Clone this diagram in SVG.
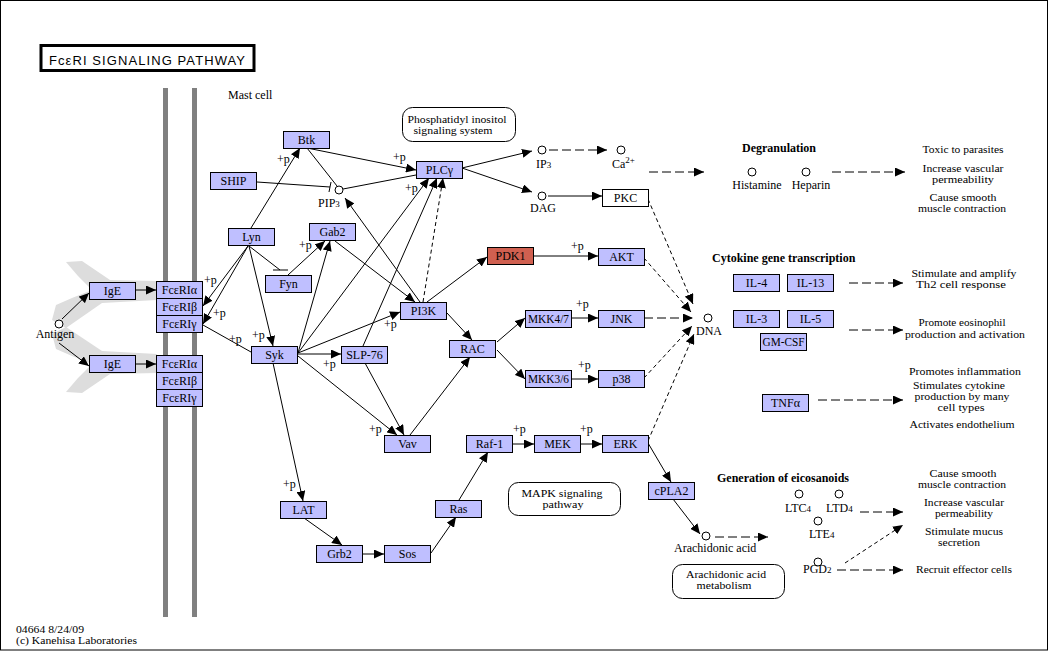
<svg xmlns="http://www.w3.org/2000/svg" width="1049" height="651" viewBox="0 0 1049 651">
<style>
.n{fill:#BFBFFF;stroke:#000;stroke-width:1}
.w{fill:#FFFFFF}
.r{fill:#D06050}
.t{font-family:"Liberation Serif","Times New Roman",serif;font-size:12px;fill:#000}
.s{font-size:11px}
.c{text-anchor:middle}
.b{font-weight:bold}
.l{stroke:#000;stroke-width:1;fill:none}
.d{stroke-dasharray:9,4}
.f{stroke-dasharray:4,3}
.o{fill:#fff;stroke:#000;stroke-width:1}
.m{fill:#808080}
.g{fill:#DDDDDD}
.bx{fill:#fff;stroke:#000;stroke-width:1}
</style>
<defs>
<marker id="a" markerWidth="10" markerHeight="9" refX="10" refY="4.5" orient="auto" markerUnits="userSpaceOnUse"><path d="M0,0L10,4.5L0,9z" fill="#000"/></marker>
</defs>
<rect x="0.5" y="0.5" width="1047" height="649.5" fill="#fff" stroke="#000" stroke-width="1"/>

<g id="title">
<rect x="41" y="45.5" width="213" height="25" fill="none" stroke="#000" stroke-width="3"/>
<text x="49" y="64.5" font-family="'Liberation Sans',Arial,sans-serif" font-size="13" textLength="196" lengthAdjust="spacing">FcεRI SIGNALING PATHWAY</text>
</g>

<g id="membrane">
<rect class="m" x="163" y="88" width="5" height="529"/>
<rect class="m" x="192" y="88" width="5" height="529"/>
</g>

<g id="antibodies">
<polygon class="g" points="157,281 110,280 82,261 66,262 78,276 92,290 72,298 56,305 52,320 66,328 102,303 157,300"/>
<polygon class="g" points="157,373 110,374 82,393 66,392 78,378 92,364 72,356 56,349 52,334 66,327 102,351 157,354"/>
</g>

<text class="t" x="228" y="99">Mast cell</text>

<g id="connectors">
<path class="l" marker-end="url(#a)" d="M62,319L89,293"/>
<path class="l" marker-end="url(#a)" d="M59,343L89,366"/>
<path class="l" marker-end="url(#a)" d="M136,290L156,290"/>
<path class="l" marker-end="url(#a)" d="M136,364L156,364"/>
<path class="l" marker-end="url(#a)" d="M248,246L203,306"/>
<path class="l" marker-end="url(#a)" d="M248,246L203,324"/>
<path class="l" d="M203,325L251,352"/>
<path class="l" marker-end="url(#a)" d="M249,246L273,346"/>
<path class="l" d="M249,246L280,270M273,270L288,270"/>
<path class="l" marker-end="url(#a)" d="M251,228L300,148"/>
<path class="l" marker-end="url(#a)" d="M288,275L325,241"/>
<path class="l" marker-end="url(#a)" d="M298,353L330,241"/>
<path class="l" marker-end="url(#a)" d="M307,148L416,170"/>
<path class="l" d="M307,148L337,186"/>
<path class="l" d="M257,182L330,187M331,182L329,192"/>
<path class="l" d="M343,189L416,175"/>
<path class="l" marker-end="url(#a)" d="M420,302L345,198"/>
<path class="l" marker-end="url(#a)" d="M335,241L415,302"/>
<path class="l f" marker-end="url(#a)" d="M423,302L443,178"/>
<path class="l" marker-end="url(#a)" d="M298,353L429,178"/>
<path class="l" marker-end="url(#a)" d="M363,346L437,178"/>
<path class="l" marker-end="url(#a)" d="M298,353L400,312"/>
<path class="l" marker-end="url(#a)" d="M298,354L341,354"/>
<path class="l" marker-end="url(#a)" d="M298,356L397,435"/>
<path class="l" marker-end="url(#a)" d="M365,363L404,435"/>
<path class="l" marker-end="url(#a)" d="M410,435L470,357"/>
<path class="l" marker-end="url(#a)" d="M447,313L472,340"/>
<path class="l" marker-end="url(#a)" d="M273,363L303,501"/>
<path class="l" marker-end="url(#a)" d="M304,518L342,545"/>
<path class="l" marker-end="url(#a)" d="M362,554L384,554"/>
<path class="l" marker-end="url(#a)" d="M431,553L456,517"/>
<path class="l" marker-end="url(#a)" d="M459,500L488,452"/>
<path class="l" marker-end="url(#a)" d="M512,444L534,444"/>
<path class="l" marker-end="url(#a)" d="M580,444L602,444"/>
<path class="l" marker-end="url(#a)" d="M648,443L671,482"/>
<path class="l" marker-end="url(#a)" d="M673,499L700,534"/>
<path class="l" marker-end="url(#a)" d="M427,302L487,257"/>
<path class="l" marker-end="url(#a)" d="M533,256L598,256"/>
<path class="l" marker-end="url(#a)" d="M462,168L532,151"/>
<path class="l" marker-end="url(#a)" d="M462,168L532,192"/>
<path class="l" marker-end="url(#a)" d="M548,196L602,196"/>
<path class="l" marker-end="url(#a)" d="M497,342L525,318"/>
<path class="l" marker-end="url(#a)" d="M497,350L525,379"/>
<path class="l" marker-end="url(#a)" d="M571,318L598,318"/>
<path class="l" marker-end="url(#a)" d="M571,379L598,379"/>
<path class="l d" marker-end="url(#a)" d="M644,318L693,318"/>
<path class="l f" marker-end="url(#a)" d="M648,199L693,304"/>
<path class="l f" marker-end="url(#a)" d="M644,258L691,312"/>
<path class="l f" marker-end="url(#a)" d="M644,378L692,326"/>
<path class="l f" marker-end="url(#a)" d="M648,441L694,334"/>
<path class="l d" marker-end="url(#a)" d="M549,150L607,150"/>
<path class="l d" marker-end="url(#a)" d="M649,172L704,172"/>
<path class="l d" marker-end="url(#a)" d="M832,172L905,172"/>
<path class="l d" marker-end="url(#a)" d="M849,283L903,283"/>
<path class="l d" marker-end="url(#a)" d="M849,330L903,330"/>
<path class="l d" marker-end="url(#a)" d="M818,400L903,400"/>
<path class="l d" marker-end="url(#a)" d="M860,512L903,512"/>
<path class="l d" marker-end="url(#a)" d="M715,537L768,537"/>
<path class="l d" marker-end="url(#a)" d="M837,570L903,570"/>
<path class="l f" marker-end="url(#a)" d="M845,563L903,525"/>
</g>

<g id="p-labels" class="t">
<text x="277" y="163">+p</text>
<text x="393" y="161">+p</text>
<text x="405" y="192">+p</text>
<text x="299" y="249">+p</text>
<text x="204" y="284">+p</text>
<text x="213" y="317">+p</text>
<text x="229" y="343">+p</text>
<text x="252" y="339">+p</text>
<text x="384" y="328">+p</text>
<text x="323" y="368">+p</text>
<text x="369" y="433">+p</text>
<text x="283" y="488">+p</text>
<text x="513" y="433">+p</text>
<text x="580" y="433">+p</text>
<text x="576" y="308">+p</text>
<text x="578" y="369">+p</text>
<text x="571" y="250">+p</text>
</g>

<g id="IgE1"><rect class="n" x="89.5" y="282.5" width="46" height="17"/><text class="t c" x="112.5" y="295">IgE</text></g>
<g id="IgE2"><rect class="n" x="89.5" y="355.5" width="46" height="17"/><text class="t c" x="112.5" y="368">IgE</text></g>
<g id="FceRIa1"><rect class="n" x="156.5" y="281.5" width="46" height="17"/><text class="t c" x="179.5" y="294">FcεRIα</text></g>
<g id="FceRIb1"><rect class="n" x="156.5" y="298.5" width="46" height="17"/><text class="t c" x="179.5" y="311">FcεRIβ</text></g>
<g id="FceRIg1"><rect class="n" x="156.5" y="315.5" width="46" height="17"/><text class="t c" x="179.5" y="328">FcεRIγ</text></g>
<g id="FceRIa2"><rect class="n" x="156.5" y="355.5" width="46" height="17"/><text class="t c" x="179.5" y="368">FcεRIα</text></g>
<g id="FceRIb2"><rect class="n" x="156.5" y="372.5" width="46" height="17"/><text class="t c" x="179.5" y="385">FcεRIβ</text></g>
<g id="FceRIg2"><rect class="n" x="156.5" y="389.5" width="46" height="17"/><text class="t c" x="179.5" y="402">FcεRIγ</text></g>
<g id="Btk"><rect class="n" x="283.5" y="131.5" width="46" height="17"/><text class="t c" x="306.5" y="144">Btk</text></g>
<g id="SHIP"><rect class="n" x="210.5" y="172.5" width="46" height="17"/><text class="t c" x="233.5" y="185">SHIP</text></g>
<g id="Lyn"><rect class="n" x="228.5" y="228.5" width="46" height="17"/><text class="t c" x="251.5" y="241">Lyn</text></g>
<g id="Gab2"><rect class="n" x="309.5" y="223.5" width="46" height="17"/><text class="t c" x="332.5" y="236">Gab2</text></g>
<g id="Fyn"><rect class="n" x="265.5" y="275.5" width="46" height="17"/><text class="t c" x="288.5" y="288">Fyn</text></g>
<g id="Syk"><rect class="n" x="251.5" y="346.5" width="46" height="17"/><text class="t c" x="274.5" y="359">Syk</text></g>
<g id="SLP-76"><rect class="n" x="341.5" y="346.5" width="46" height="17"/><text class="t c" x="364.5" y="359">SLP-76</text></g>
<g id="PI3K"><rect class="n" x="400.5" y="302.5" width="46" height="17"/><text class="t c" x="423.5" y="315">PI3K</text></g>
<g id="RAC"><rect class="n" x="449.5" y="340.5" width="46" height="17"/><text class="t c" x="472.5" y="353">RAC</text></g>
<g id="Vav"><rect class="n" x="384.5" y="435.5" width="46" height="17"/><text class="t c" x="407.5" y="448">Vav</text></g>
<g id="Raf-1"><rect class="n" x="466.5" y="435.5" width="46" height="17"/><text class="t c" x="489.5" y="448">Raf-1</text></g>
<g id="LAT"><rect class="n" x="280.5" y="501.5" width="46" height="17"/><text class="t c" x="303.5" y="514">LAT</text></g>
<g id="Grb2"><rect class="n" x="316.5" y="545.5" width="46" height="17"/><text class="t c" x="339.5" y="558">Grb2</text></g>
<g id="Sos"><rect class="n" x="384.5" y="545.5" width="46" height="17"/><text class="t c" x="407.5" y="558">Sos</text></g>
<g id="Ras"><rect class="n" x="435.5" y="500.5" width="46" height="17"/><text class="t c" x="458.5" y="513">Ras</text></g>
<g id="PLCg"><rect class="n" x="416.5" y="161.5" width="46" height="17"/><text class="t c" x="439.5" y="174">PLCγ</text></g>
<g id="PDK1"><rect class="n r" x="487.5" y="247.5" width="46" height="17"/><text class="t c" x="510.5" y="260">PDK1</text></g>
<g id="AKT"><rect class="n" x="598.5" y="248.5" width="46" height="17"/><text class="t c" x="621.5" y="261">AKT</text></g>
<g id="PKC"><rect class="n w" x="602.5" y="189.5" width="46" height="17"/><text class="t c" x="625.5" y="202">PKC</text></g>
<g id="MKK47"><rect class="n" x="525.5" y="310.5" width="46" height="17"/><text class="t c" x="548.5" y="323" textLength="41" lengthAdjust="spacingAndGlyphs">MKK4/7</text></g>
<g id="JNK"><rect class="n" x="598.5" y="310.5" width="46" height="17"/><text class="t c" x="621.5" y="323">JNK</text></g>
<g id="MKK36"><rect class="n" x="525.5" y="370.5" width="46" height="17"/><text class="t c" x="548.5" y="383" textLength="41" lengthAdjust="spacingAndGlyphs">MKK3/6</text></g>
<g id="p38"><rect class="n" x="598.5" y="370.5" width="46" height="17"/><text class="t c" x="621.5" y="383">p38</text></g>
<g id="MEK"><rect class="n" x="534.5" y="435.5" width="46" height="17"/><text class="t c" x="557.5" y="448">MEK</text></g>
<g id="ERK"><rect class="n" x="602.5" y="435.5" width="46" height="17"/><text class="t c" x="625.5" y="448">ERK</text></g>
<g id="cPLA2"><rect class="n" x="648.5" y="482.5" width="46" height="17"/><text class="t c" x="671.5" y="495">cPLA2</text></g>
<g id="IL-4"><rect class="n" x="733.5" y="274.5" width="46" height="17"/><text class="t c" x="756.5" y="287">IL-4</text></g>
<g id="IL-13"><rect class="n" x="787.5" y="274.5" width="46" height="17"/><text class="t c" x="810.5" y="287">IL-13</text></g>
<g id="IL-3"><rect class="n" x="733.5" y="310.5" width="46" height="17"/><text class="t c" x="756.5" y="323">IL-3</text></g>
<g id="IL-5"><rect class="n" x="787.5" y="310.5" width="46" height="17"/><text class="t c" x="810.5" y="323">IL-5</text></g>
<g id="GM-CSF"><rect class="n" x="760.5" y="333.5" width="46" height="17"/><text class="t c" x="783.5" y="346" textLength="42" lengthAdjust="spacingAndGlyphs">GM-CSF</text></g>
<g id="TNFa"><rect class="n" x="762.5" y="394.5" width="46" height="17"/><text class="t c" x="785.5" y="407">TNFα</text></g>

<g id="compounds">
<circle class="o" cx="59" cy="324" r="4"/>
<circle class="o" cx="339" cy="190" r="4"/>
<circle class="o" cx="542" cy="150" r="4"/>
<circle class="o" cx="621" cy="150" r="4"/>
<circle class="o" cx="542" cy="196" r="4"/>
<circle class="o" cx="708" cy="318" r="4"/>
<circle class="o" cx="706" cy="536" r="4"/>
<circle class="o" cx="752" cy="172" r="4"/>
<circle class="o" cx="806" cy="172" r="4"/>
<circle class="o" cx="799" cy="494" r="4"/>
<circle class="o" cx="839" cy="494" r="4"/>
<circle class="o" cx="818" cy="521" r="4"/>
<circle class="o" cx="818" cy="562" r="4"/>
</g>

<g id="compound-labels" class="t">
<text class="c" x="55" y="338">Antigen</text>
<text x="318" y="207">PIP<tspan font-size="9">3</tspan></text>
<text x="536" y="168">IP<tspan font-size="9">3</tspan></text>
<text x="612" y="168">Ca<tspan font-size="9" dy="-5">2+</tspan></text>
<text class="c" x="543" y="212">DAG</text>
<text x="696" y="335">DNA</text>
<text x="674" y="552">Arachidonic acid</text>
<text class="c" x="757" y="189">Histamine</text>
<text class="c" x="811" y="189">Heparin</text>
<text x="785" y="512">LTC<tspan font-size="9">4</tspan></text>
<text x="826" y="512">LTD<tspan font-size="9">4</tspan></text>
<text x="809" y="538">LTE<tspan font-size="9">4</tspan></text>
<text x="803" y="573">PGD<tspan font-size="9">2</tspan></text>
</g>

<g id="map-PI">
<rect class="bx" x="402.5" y="107.5" width="113" height="34" rx="10"/>
<text class="t s c" x="457" y="123" textLength="99" lengthAdjust="spacingAndGlyphs">Phosphatidyl inositol</text>
<text class="t s c" x="453" y="134" textLength="79" lengthAdjust="spacingAndGlyphs">signaling system</text>
</g>
<g id="map-MAPK">
<rect class="bx" x="508.5" y="482.5" width="112" height="33" rx="10"/>
<text class="t s c" x="562" y="497" textLength="81" lengthAdjust="spacingAndGlyphs">MAPK signaling</text>
<text class="t s c" x="563" y="508" textLength="41" lengthAdjust="spacingAndGlyphs">pathway</text>
</g>
<g id="map-AA">
<rect class="bx" x="672.5" y="564.5" width="112" height="34" rx="10"/>
<text class="t s c" x="726" y="578" textLength="80" lengthAdjust="spacingAndGlyphs">Arachidonic acid</text>
<text class="t s c" x="724" y="589" textLength="55" lengthAdjust="spacingAndGlyphs">metabolism</text>
</g>

<g id="headings" class="t b">
<text x="742" y="152">Degranulation</text>
<text x="712" y="262">Cytokine gene transcription</text>
<text x="717" y="482">Generation of eicosanoids</text>
</g>

<g id="effects" class="t s c">
<text x="963" y="153" textLength="81" lengthAdjust="spacingAndGlyphs">Toxic to parasites</text>
<text x="963" y="172" textLength="81" lengthAdjust="spacingAndGlyphs">Increase vascular</text>
<text x="963" y="183" textLength="62" lengthAdjust="spacingAndGlyphs">permeability</text>
<text x="963" y="201" textLength="67" lengthAdjust="spacingAndGlyphs">Cause smooth</text>
<text x="962" y="212" textLength="88" lengthAdjust="spacingAndGlyphs">muscle contraction</text>
<text x="964" y="277" textLength="105" lengthAdjust="spacingAndGlyphs">Stimulate and amplify</text>
<text x="961" y="288" textLength="90" lengthAdjust="spacingAndGlyphs">Th2 cell response</text>
<text x="962" y="326" textLength="87" lengthAdjust="spacingAndGlyphs">Promote eosinophil</text>
<text x="965" y="338" textLength="120" lengthAdjust="spacingAndGlyphs">production and activation</text>
<text x="965" y="375" textLength="112" lengthAdjust="spacingAndGlyphs">Promotes inflammation</text>
<text x="959" y="389" textLength="92" lengthAdjust="spacingAndGlyphs">Stimulates cytokine</text>
<text x="962" y="400" textLength="95" lengthAdjust="spacingAndGlyphs">production by many</text>
<text x="961" y="411" textLength="47" lengthAdjust="spacingAndGlyphs">cell types</text>
<text x="962" y="428" textLength="105" lengthAdjust="spacingAndGlyphs">Activates endothelium</text>
<text x="963" y="477" textLength="67" lengthAdjust="spacingAndGlyphs">Cause smooth</text>
<text x="962" y="488" textLength="88" lengthAdjust="spacingAndGlyphs">muscle contraction</text>
<text x="964" y="506" textLength="80" lengthAdjust="spacingAndGlyphs">Increase vascular</text>
<text x="964" y="517" textLength="58" lengthAdjust="spacingAndGlyphs">permeability</text>
<text x="964" y="535" textLength="78" lengthAdjust="spacingAndGlyphs">Stimulate mucus</text>
<text x="959" y="546" textLength="42" lengthAdjust="spacingAndGlyphs">secretion</text>
<text x="964" y="573" textLength="96" lengthAdjust="spacingAndGlyphs">Recruit effector cells</text>
</g>

<g id="footer" class="t s">
<text x="16" y="633" textLength="68" lengthAdjust="spacingAndGlyphs">04664 8/24/09</text>
<text x="16" y="644" textLength="121" lengthAdjust="spacingAndGlyphs">(c) Kanehisa Laboratories</text>
</g>
</svg>
